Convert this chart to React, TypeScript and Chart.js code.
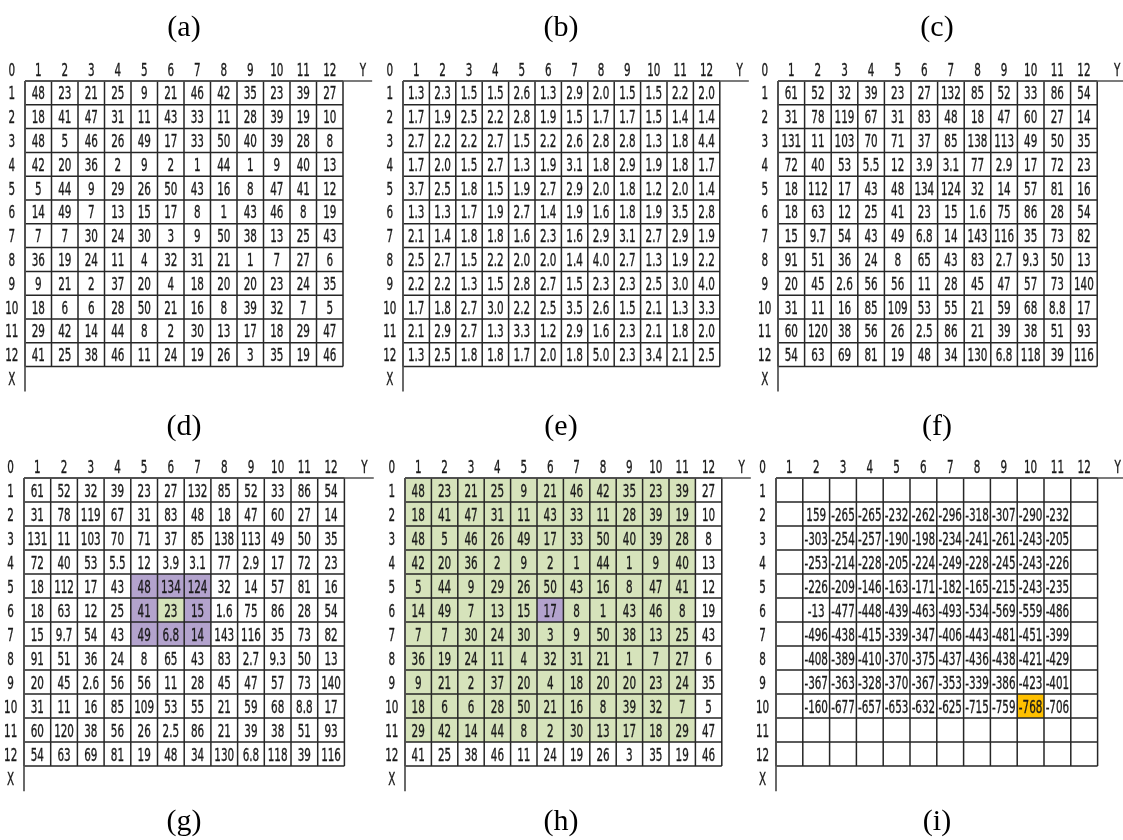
import React, { useEffect, useRef } from 'react';
import { Chart, registerables } from 'chart.js';

Chart.register(...registerables);

// ---------- data ----------
const ROW_LABELS = ['1', '2', '3', '4', '5', '6', '7', '8', '9', '10', '11', '12'];
const COL_LABELS = ['1', '2', '3', '4', '5', '6', '7', '8', '9', '10', '11', '12'];
const CORNER_LABEL = '0';
const X_LABEL = 'X';
const Y_LABEL = 'Y';

const TOP_CAPTIONS = ['(a)', '(b)', '(c)'];
const MID_CAPTIONS = ['(d)', '(e)', '(f)'];
const BOTTOM_CAPTIONS = ['(g)', '(h)', '(i)'];

const TABLE_A = [
  [48, 23, 21, 25, 9, 21, 46, 42, 35, 23, 39, 27],
  [18, 41, 47, 31, 11, 43, 33, 11, 28, 39, 19, 10],
  [48, 5, 46, 26, 49, 17, 33, 50, 40, 39, 28, 8],
  [42, 20, 36, 2, 9, 2, 1, 44, 1, 9, 40, 13],
  [5, 44, 9, 29, 26, 50, 43, 16, 8, 47, 41, 12],
  [14, 49, 7, 13, 15, 17, 8, 1, 43, 46, 8, 19],
  [7, 7, 30, 24, 30, 3, 9, 50, 38, 13, 25, 43],
  [36, 19, 24, 11, 4, 32, 31, 21, 1, 7, 27, 6],
  [9, 21, 2, 37, 20, 4, 18, 20, 20, 23, 24, 35],
  [18, 6, 6, 28, 50, 21, 16, 8, 39, 32, 7, 5],
  [29, 42, 14, 44, 8, 2, 30, 13, 17, 18, 29, 47],
  [41, 25, 38, 46, 11, 24, 19, 26, 3, 35, 19, 46],
];

const TABLE_B = [
  [1.3, 2.3, 1.5, 1.5, 2.6, 1.3, 2.9, 2.0, 1.5, 1.5, 2.2, 2.0],
  [1.7, 1.9, 2.5, 2.2, 2.8, 1.9, 1.5, 1.7, 1.7, 1.5, 1.4, 1.4],
  [2.7, 2.2, 2.2, 2.7, 1.5, 2.2, 2.6, 2.8, 2.8, 1.3, 1.8, 4.4],
  [1.7, 2.0, 1.5, 2.7, 1.3, 1.9, 3.1, 1.8, 2.9, 1.9, 1.8, 1.7],
  [3.7, 2.5, 1.8, 1.5, 1.9, 2.7, 2.9, 2.0, 1.8, 1.2, 2.0, 1.4],
  [1.3, 1.3, 1.7, 1.9, 2.7, 1.4, 1.9, 1.6, 1.8, 1.9, 3.5, 2.8],
  [2.1, 1.4, 1.8, 1.8, 1.6, 2.3, 1.6, 2.9, 3.1, 2.7, 2.9, 1.9],
  [2.5, 2.7, 1.5, 2.2, 2.0, 2.0, 1.4, 4.0, 2.7, 1.3, 1.9, 2.2],
  [2.2, 2.2, 1.3, 1.5, 2.8, 2.7, 1.5, 2.3, 2.3, 2.5, 3.0, 4.0],
  [1.7, 1.8, 2.7, 3.0, 2.2, 2.5, 3.5, 2.6, 1.5, 2.1, 1.3, 3.3],
  [2.1, 2.9, 2.7, 1.3, 3.3, 1.2, 2.9, 1.6, 2.3, 2.1, 1.8, 2.0],
  [1.3, 2.5, 1.8, 1.8, 1.7, 2.0, 1.8, 5.0, 2.3, 3.4, 2.1, 2.5],
];

const TABLE_C = [
  [61, 52, 32, 39, 23, 27, 132, 85, 52, 33, 86, 54],
  [31, 78, 119, 67, 31, 83, 48, 18, 47, 60, 27, 14],
  [131, 11, 103, 70, 71, 37, 85, 138, 113, 49, 50, 35],
  [72, 40, 53, 5.5, 12, 3.9, 3.1, 77, 2.9, 17, 72, 23],
  [18, 112, 17, 43, 48, 134, 124, 32, 14, 57, 81, 16],
  [18, 63, 12, 25, 41, 23, 15, 1.6, 75, 86, 28, 54],
  [15, 9.7, 54, 43, 49, 6.8, 14, 143, 116, 35, 73, 82],
  [91, 51, 36, 24, 8, 65, 43, 83, 2.7, 9.3, 50, 13],
  [20, 45, 2.6, 56, 56, 11, 28, 45, 47, 57, 73, 140],
  [31, 11, 16, 85, 109, 53, 55, 21, 59, 68, 8.8, 17],
  [60, 120, 38, 56, 26, 2.5, 86, 21, 39, 38, 51, 93],
  [54, 63, 69, 81, 19, 48, 34, 130, 6.8, 118, 39, 116],
];

// table (f) covers rows 2..10 and columns 2..11
const TABLE_F_FIRST_ROW = 2;
const TABLE_F_FIRST_COL = 2;
const TABLE_F = [
  [159, -265, -265, -232, -262, -296, -318, -307, -290, -232],
  [-303, -254, -257, -190, -198, -234, -241, -261, -243, -205],
  [-253, -214, -228, -205, -224, -249, -228, -245, -243, -226],
  [-226, -209, -146, -163, -171, -182, -165, -215, -243, -235],
  [-13, -477, -448, -439, -463, -493, -534, -569, -559, -486],
  [-496, -438, -415, -339, -347, -406, -443, -481, -451, -399],
  [-408, -389, -410, -370, -375, -437, -436, -438, -421, -429],
  [-367, -363, -328, -370, -367, -353, -339, -386, -423, -401],
  [-160, -677, -657, -653, -632, -625, -715, -759, -768, -706],
];

// highlighted cells: [row, col]
const D_PURPLE_ROWS = [5, 6, 7];
const D_PURPLE_COLS = [5, 6, 7];
const D_GREEN_CELLS = [[6, 6]];
const E_GREEN_ROWS = [1, 2, 3, 4, 5, 6, 7, 8, 9, 10, 11];
const E_GREEN_COLS = [1, 2, 3, 4, 5, 6, 7, 8, 9, 10, 11];
const E_PURPLE_CELLS = [[6, 6]];
const F_ORANGE_CELLS = [[10, 10]];

// ---------- style ----------
const PURPLE = '#b3a3cd';
const GREEN = '#d6e3bb';
const ORANGE = '#ffc000';
const TEXT_COLOR = '#1a1a1a';
const LINE_COLOR = '#262626';
const FONT_STACK = "'DejaVu Sans Condensed', 'DejaVu Sans', sans-serif";
const FONT_SIZE = 18;
const DIGIT_ADVANCE = 6.6;

type Cell = { x: number; y: number; label: string; fill: string | null };

const inList = (list: number[][], r: number, c: number) => list.some(([a, b]) => a === r && b === c);

function buildCells(
  table: number[][],
  firstRow: number,
  firstCol: number,
  fmt: (v: number) => string,
  fillFn: (r: number, c: number) => string | null
): Cell[] {
  const cells: Cell[] = [];
  for (let r = 1; r <= ROW_LABELS.length; r++) {
    for (let c = 1; c <= COL_LABELS.length; c++) {
      const row = table[r - firstRow];
      const v = row ? row[c - firstCol] : undefined;
      cells.push({ x: c, y: r, label: v === undefined ? '' : fmt(v), fill: fillFn(r, c) });
    }
  }
  return cells;
}

const fmtInt = (v: number) => String(v);
const fmtOne = (v: number) => v.toFixed(1);

const fillNone = () => null;
const fillD = (r: number, c: number) => {
  if (inList(D_GREEN_CELLS, r, c)) return GREEN;
  if (D_PURPLE_ROWS.includes(r) && D_PURPLE_COLS.includes(c)) return PURPLE;
  return null;
};
const fillE = (r: number, c: number) => {
  if (inList(E_PURPLE_CELLS, r, c)) return PURPLE;
  if (E_GREEN_ROWS.includes(r) && E_GREEN_COLS.includes(c)) return GREEN;
  return null;
};
const fillF = (r: number, c: number) => (inList(F_ORANGE_CELLS, r, c) ? ORANGE : null);

type PanelCfg = { gx: number; hy: number; w: number; h: number; cells: Cell[] };

const TOP_HY = 81;
const TOP_H = 23.8;
const BOT_HY = 478;
const BOT_H = 24;

const PANELS: PanelCfg[] = [
  { gx: 25, hy: TOP_HY, w: 26.5, h: TOP_H, cells: buildCells(TABLE_A, 1, 1, fmtInt, fillNone) },
  { gx: 403, hy: TOP_HY, w: 26.4, h: TOP_H, cells: buildCells(TABLE_B, 1, 1, fmtOne, fillNone) },
  { gx: 778, hy: TOP_HY, w: 26.6, h: TOP_H, cells: buildCells(TABLE_C, 1, 1, fmtInt, fillNone) },
  { gx: 24, hy: BOT_HY, w: 26.7, h: BOT_H, cells: buildCells(TABLE_C, 1, 1, fmtInt, fillD) },
  { gx: 405, hy: BOT_HY, w: 26.4, h: BOT_H, cells: buildCells(TABLE_A, 1, 1, fmtInt, fillE) },
  {
    gx: 776, hy: BOT_HY, w: 26.8, h: BOT_H,
    cells: buildCells(TABLE_F, TABLE_F_FIRST_ROW, TABLE_F_FIRST_COL, fmtInt, fillF),
  },
];

const tablePlugin = {
  id: 'tableDraw',
  afterDatasetsDraw(chart: any) {
    const ctx: CanvasRenderingContext2D = chart.ctx;
    const xs = chart.scales.x;
    const ys = chart.scales.y;
    const px = (v: number) => xs.getPixelForValue(v);
    const py = (v: number) => ys.getPixelForValue(v);
    const meta = chart.getDatasetMeta(0);
    const data: Cell[] = chart.data.datasets[0].data;
    const cw = Math.abs(px(1) - px(0));
    const chh = Math.abs(py(1) - py(0));
    const nR = ROW_LABELS.length;
    const nC = COL_LABELS.length;

    ctx.save();
    // fills
    meta.data.forEach((el: any, i: number) => {
      const d = data[i];
      if (d.fill) {
        ctx.fillStyle = d.fill;
        ctx.fillRect(el.x - cw / 2, el.y - chh / 2, cw, chh);
      }
    });

    // grid
    ctx.strokeStyle = LINE_COLOR;
    ctx.lineWidth = 1.5;
    ctx.beginPath();
    for (let k = 0; k <= nR; k++) {
      const y = py(k + 0.5);
      ctx.moveTo(px(0.5), y);
      ctx.lineTo(px(nC + 0.5), y);
    }
    for (let k = 0; k <= nC; k++) {
      const x = px(k + 0.5);
      ctx.moveTo(x, py(0.5));
      ctx.lineTo(x, py(nR + 0.5));
    }
    ctx.stroke();

    // header and left axis lines
    ctx.strokeStyle = '#505050';
    ctx.lineWidth = 1.7;
    ctx.beginPath();
    ctx.moveTo(px(0.5), py(0.5));
    ctx.lineTo(px(nC + 1.6), py(0.5));
    ctx.moveTo(px(0.5), py(0.5));
    ctx.lineTo(px(0.5), py(nR + 1.55));
    ctx.stroke();

    // text
    ctx.font = `${FONT_SIZE}px ${FONT_STACK}`;
    ctx.fillStyle = TEXT_COLOR;
    ctx.strokeStyle = TEXT_COLOR;
    ctx.lineWidth = 0.35;
    ctx.textAlign = 'center';
    ctx.textBaseline = 'alphabetic';
    const m = ctx.measureText('0123456789');
    const sx = DIGIT_ADVANCE / (m.width / 10);
    const asc = ctx.measureText('0').actualBoundingBoxAscent || FONT_SIZE * 0.73;
    const put = (t: string, x: number, y: number) => {
      if (!t) return;
      ctx.save();
      ctx.translate(x, y + asc / 2);
      ctx.scale(sx, 1);
      ctx.fillText(t, 0, 0);
      ctx.strokeText(t, 0, 0);
      ctx.restore();
    };
    meta.data.forEach((el: any, i: number) => put(data[i].label, el.x, el.y));
    put(CORNER_LABEL, px(0), py(0));
    COL_LABELS.forEach((t, i) => put(t, px(i + 1), py(0)));
    put(Y_LABEL, px(nC + 1.25), py(0));
    ROW_LABELS.forEach((t, i) => put(t, px(0), py(i + 1)));
    put(X_LABEL, px(0), py(nR + 1));
    ctx.restore();
  },
};

function Panel({ cfg }: { cfg: PanelCfg }) {
  const ref = useRef<HTMLCanvasElement>(null);
  const L = Math.floor(cfg.gx - 1.3 * cfg.w);
  const T = Math.floor(cfg.hy - 1.8 * cfg.h);
  const W = Math.ceil(15 * cfg.w);
  const H = Math.ceil(16 * cfg.h);
  const xMin = 0.5 - (cfg.gx - L) / cfg.w;
  const xMax = xMin + W / cfg.w;
  const yMin = 0.5 - (cfg.hy - T) / cfg.h;
  const yMax = yMin + H / cfg.h;

  useEffect(() => {
    if (!ref.current) return;
    const chart = new Chart(ref.current, {
      type: 'scatter',
      data: {
        datasets: [
          {
            data: cfg.cells as any,
            pointRadius: 0,
            pointHoverRadius: 0,
            showLine: false,
          },
        ],
      },
      options: {
        animation: false,
        responsive: false,
        devicePixelRatio: 1,
        events: [],
        layout: { padding: 0 },
        plugins: { legend: { display: false }, tooltip: { enabled: false } },
        scales: {
          x: { type: 'linear', min: xMin, max: xMax, bounds: 'data', display: false },
          y: { type: 'linear', min: yMin, max: yMax, bounds: 'data', reverse: true, display: false },
        },
      },
      plugins: [tablePlugin],
    } as any);
    return () => chart.destroy();
  }, []);

  return (
    <canvas
      ref={ref}
      width={W}
      height={H}
      style={{ position: 'absolute', left: L, top: T, width: W, height: H }}
    />
  );
}

const captionStyle = (x: number, y: number): React.CSSProperties => ({
  position: 'absolute',
  left: x,
  top: y,
  transform: 'translate(-50%, -50%)',
  fontFamily: "'Liberation Serif', 'Times New Roman', serif",
  fontSize: 30,
  lineHeight: 1,
  color: '#000',
  whiteSpace: 'nowrap',
});

export default function App() {
  const captionXs = [184, 561, 937];
  return (
    <div
      style={{
        position: 'absolute',
        left: 0,
        top: 0,
        width: 1123,
        height: 840,
        overflow: 'hidden',
        background: '#fff',
      }}
    >
      {PANELS.map((p, i) => (
        <Panel key={i} cfg={p} />
      ))}
      {TOP_CAPTIONS.map((t, i) => (
        <div key={'t' + i} style={captionStyle(captionXs[i], 26)}>{t}</div>
      ))}
      {MID_CAPTIONS.map((t, i) => (
        <div key={'m' + i} style={captionStyle(captionXs[i], 425)}>{t}</div>
      ))}
      {BOTTOM_CAPTIONS.map((t, i) => (
        <div key={'b' + i} style={captionStyle(captionXs[i], 820)}>{t}</div>
      ))}
    </div>
  );
}
